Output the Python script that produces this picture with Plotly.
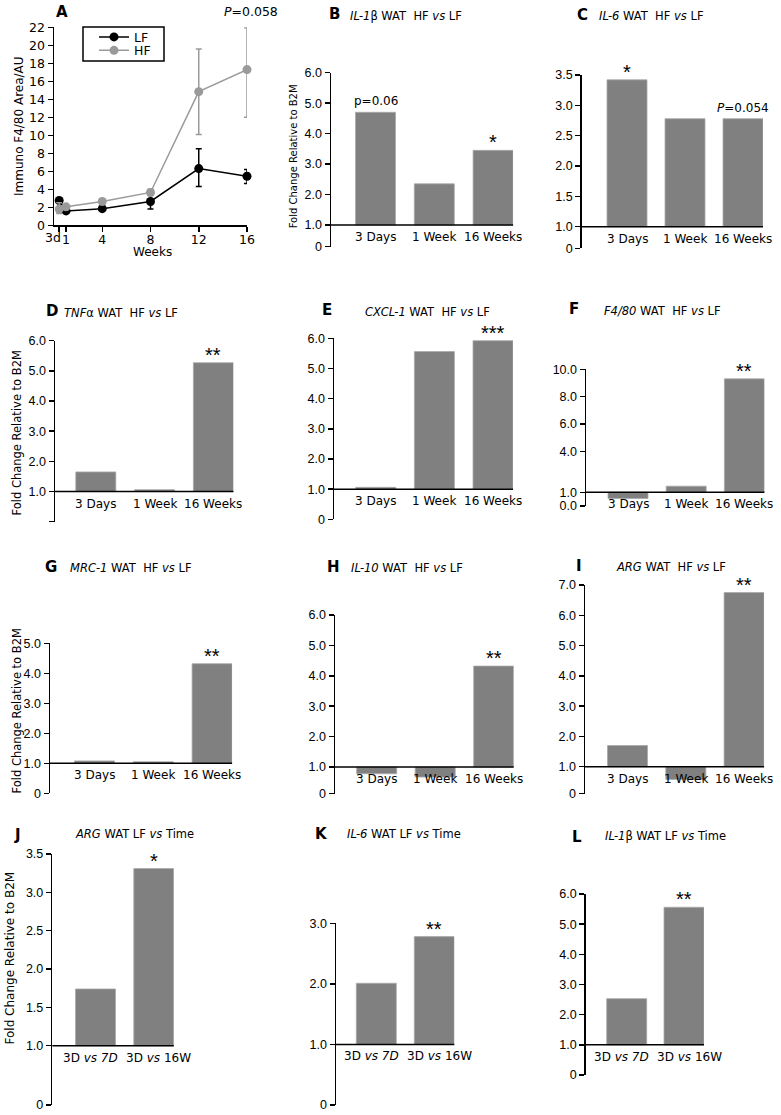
import plotly.graph_objects as go

W, H = 781, 1115
ARIAL = "Liberation Sans, Arial, sans-serif"
WIDE = "DejaVu Sans, Verdana, sans-serif"
BAR_COLOR = "#808080"
HF_GREY = "#9a9a9a"

# ---------------- Panel A data (F4/80 immunostaining) ----------------
weeks = [0.43, 1, 4, 8, 12, 16]
week_tick_vals = [0.43, 1, 4, 8, 12, 16]
week_tick_text = ["", "1", "4", "8", "12", "16"]
a_y_ticks = [0, 2, 4, 6, 8, 10, 12, 14, 16, 18, 20, 22]
lf_mean = [2.75, 1.6, 1.85, 2.65, 6.3, 5.45]
lf_err_up = [0.2, 0.15, 0.15, 0.95, 2.2, 0.75]
lf_err_down = [0.2, 0.15, 0.15, 0.85, 2.0, 0.8]
hf_mean = [1.8, 2.05, 2.65, 3.65, 14.85, 17.3]
hf_err_up = [0.7, 0.15, 0.3, 0.35, 4.75, 4.65]
hf_err_down = [0.5, 0.15, 0.25, 0.35, 4.75, 5.3]

# ---------------- Bar panels data ----------------
hf_cats = ["3 Days", "1 Week", "16 Weeks"]
lf_cats = ["3D vs 7D", "3D vs 16W"]
lf_cat_labels = ["3D <i>vs 7D</i>", "3D <i>vs</i> 16W"]

il1b_hf = [4.70, 2.35, 3.45]
il6_hf = [3.42, 2.78, 2.78]
tnfa_hf = [1.65, 1.06, 5.27]
cxcl1_hf = [1.06, 5.56, 5.92]
f480_hf = [0.55, 1.45, 9.3]
mrc1_hf = [1.08, 1.05, 4.32]
il10_hf = [0.78, 0.67, 4.32]
arg_hf = [1.70, 0.58, 6.75]
arg_lf = [1.74, 3.31]
il6_lf = [2.01, 2.78]
il1b_lf = [2.53, 5.56]

il1b_hf_sig = ["p=0.06", "", "*"]
il6_hf_sig = ["*", "", "<i>P</i>=0.054"]
tnfa_hf_sig = ["", "", "**"]
cxcl1_hf_sig = ["", "", "***"]
f480_hf_sig = ["", "", "**"]
mrc1_hf_sig = ["", "", "**"]
il10_hf_sig = ["", "", "**"]
arg_hf_sig = ["", "", "**"]
arg_lf_sig = ["", "*"]
il6_lf_sig = ["", "**"]
il1b_lf_sig = ["", "**"]

ticks_6 = [1, 2, 3, 4, 5, 6]
ticks_6_text = ["1.0", "2.0", "3.0", "4.0", "5.0", "6.0"]

NB = "\u00a0"
# layout spec per panel (pixel geometry)
panels = [
    dict(letter="B", title=f"<i>IL-1</i>β WAT{NB}{NB}HF <i>vs</i> LF", cats=hf_cats, labels=hf_cats,
         vals=il1b_hf, sig=il1b_hf_sig, ax=331, c0=375.5, s=58.8, ytop=72.7, ybot=246.7,
         yr=[0.287, 6.0], tv=ticks_6, tt=ticks_6_text, bot="0",
         lx=334, ly=13.8, tx=348, ty=16),
    dict(letter="C", title=f"<i>IL-6</i> WAT{NB}{NB}HF <i>vs</i> LF", cats=hf_cats, labels=hf_cats,
         vals=il6_hf, sig=il6_hf_sig, ax=581.7, c0=627, s=58, ytop=75, ybot=248.3,
         yr=[0.644, 3.5], tv=[1, 1.5, 2, 2.5, 3, 3.5], tt=["1.0", "1.5", "2.0", "2.5", "3.0", "3.5"], bot="0",
         lx=582.5, ly=15.3, tx=597, ty=16),
    dict(letter="D", title=f"<i>TNF</i>α WAT{NB}{NB}HF <i>vs</i> LF", cats=hf_cats, labels=hf_cats,
         vals=tnfa_hf, sig=tnfa_hf_sig, ax=55, c0=95.8, s=58.8, ytop=340.7, ybot=521.7,
         yr=[0, 6.0], tv=ticks_6, tt=ticks_6_text, bot="",
         lx=51.5, ly=311.3, tx=62, ty=312.7),
    dict(letter="E", title=f"<i>CXCL-1</i> WAT{NB}{NB}HF <i>vs</i> LF", cats=hf_cats, labels=hf_cats,
         vals=cxcl1_hf, sig=cxcl1_hf_sig, ax=334, c0=375.8, s=58.6, ytop=338.3, ybot=519.3,
         yr=[0, 6.0], tv=ticks_6, tt=ticks_6_text, bot="0",
         lx=327.3, ly=309.5, tx=363, ty=311.7),
    dict(letter="F", title=f"<i>F4/80</i> WAT{NB}{NB}HF <i>vs</i> LF", cats=hf_cats, labels=hf_cats,
         vals=f480_hf, sig=f480_hf_sig, ax=586, c0=628, s=58.2, ytop=369.3, ybot=506,
         yr=[0, 10.0], tv=[1, 4, 6, 8, 10], tt=["1.0", "4.0", "6.0", "8.0", "10.0"], bot="0.0",
         lx=574, ly=309, tx=601.7, ty=310.7),
    dict(letter="G", title=f"<i>MRC-1</i> WAT{NB}{NB}HF <i>vs</i> LF", cats=hf_cats, labels=hf_cats,
         vals=mrc1_hf, sig=mrc1_hf_sig, ax=50, c0=94.5, s=58.8, ytop=643.3, ybot=793.3,
         yr=[0, 5.0], tv=[1, 2, 3, 4, 5], tt=["1.0", "2.0", "3.0", "4.0", "5.0"], bot="0",
         lx=50.5, ly=567, tx=68, ty=568.3),
    dict(letter="H", title=f"<i>IL-10</i> WAT{NB}{NB}HF <i>vs</i> LF", cats=hf_cats, labels=hf_cats,
         vals=il10_hf, sig=il10_hf_sig, ax=335, c0=376.7, s=58.5, ytop=615, ybot=793.5,
         yr=[0.13, 6.0], tv=ticks_6, tt=ticks_6_text, bot="0",
         lx=333, ly=567, tx=349.3, ty=568.3),
    dict(letter="I", title=f"<i>ARG</i> WAT{NB}{NB}HF <i>vs</i> LF", cats=hf_cats, labels=hf_cats,
         vals=arg_hf, sig=arg_hf_sig, ax=585, c0=627.5, s=58.3, ytop=585, ybot=793.5,
         yr=[0.115, 7.0], tv=[1, 2, 3, 4, 5, 6, 7], tt=["1.0", "2.0", "3.0", "4.0", "5.0", "6.0", "7.0"], bot="0",
         lx=578.7, ly=565.5, tx=614, ty=566.7),
    dict(letter="J", title="<i>ARG</i> WAT LF <i>vs</i> Time", cats=lf_cats, labels=lf_cat_labels,
         vals=arg_lf, sig=arg_lf_sig, ax=52.3, c0=95.5, s=58.3, ytop=854, ybot=1105,
         yr=[0.227, 3.5], tv=[1, 1.5, 2, 2.5, 3, 3.5], tt=["1.0", "1.5", "2.0", "2.5", "3.0", "3.5"], bot="0",
         lx=17.7, ly=835, tx=73.3, ty=834.3),
    dict(letter="K", title="<i>IL-6</i> WAT LF <i>vs</i> Time", cats=lf_cats, labels=lf_cat_labels,
         vals=il6_lf, sig=il6_lf_sig, ax=336, c0=376.3, s=58, ytop=923.3, ybot=1105,
         yr=[0, 3.0], tv=[1, 2, 3], tt=["1.0", "2.0", "3.0"], bot="0",
         lx=321.5, ly=834, tx=345, ty=834.3),
    dict(letter="L", title="<i>IL-1</i>β WAT LF <i>vs</i> Time", cats=lf_cats, labels=lf_cat_labels,
         vals=il1b_lf, sig=il1b_lf_sig, ax=585.7, c0=626.7, s=57.3, ytop=894, ybot=1075,
         yr=[0, 6.0], tv=ticks_6, tt=ticks_6_text, bot="0",
         lx=576.7, ly=836.5, tx=603.3, ty=835.7),
]

BW = 40  # bar width px

fig = go.Figure()
annotations = []
shapes = []


def px_x(x):
    return x / W


def px_y(y):
    return 1 - y / H


# ---------- Panel A ----------
fig.add_trace(go.Scatter(
    x=weeks, y=lf_mean, name="LF", mode="lines+markers", legend="legend",
    line=dict(color="black", width=1.5), marker=dict(color="black", size=9),
    error_y=dict(type="data", symmetric=False, array=lf_err_up, arrayminus=lf_err_down,
                 color="black", thickness=1.5, width=3),
    cliponaxis=False, xaxis="x", yaxis="y"))
fig.add_trace(go.Scatter(
    x=weeks, y=hf_mean, name="HF", mode="lines+markers", legend="legend2",
    line=dict(color=HF_GREY, width=1.5), marker=dict(color=HF_GREY, size=9),
    error_y=dict(type="data", symmetric=False, array=hf_err_up, arrayminus=hf_err_down,
                 color=HF_GREY, thickness=1.5, width=3),
    cliponaxis=False, xaxis="x", yaxis="y"))

a_axis = dict(showgrid=False, zeroline=False, color="black", showline=True, linewidth=1.5,
              linecolor="black", ticks="outside", ticklen=5, tickwidth=1.5, automargin=False,
              tickfont=dict(family=WIDE, size=12.5, color="black"))
layout_axes = {}
layout_axes["xaxis"] = dict(domain=[px_x(54), px_x(247)], range=[0, 16], anchor="y",
                            tickvals=week_tick_vals, ticktext=week_tick_text,
                            ticklabelstandoff=-3, **a_axis)
layout_axes["yaxis"] = dict(domain=[px_y(225.3), px_y(27.3)], range=[0, 22], anchor="x",
                            tickvals=a_y_ticks, ticktext=[str(v) for v in a_y_ticks], **a_axis)
annotations += [
    dict(text="3d", x=52.5 / W, y=px_y(237), xref="paper", yref="paper", showarrow=False,
         xanchor="center", yanchor="middle", font=dict(family=WIDE, size=12.5)),
    dict(text="Weeks", x=152 / W, y=px_y(252), xref="paper", yref="paper", showarrow=False,
         xanchor="center", yanchor="middle", font=dict(family=WIDE, size=12)),
    dict(text="Immuno F4/80 Area/AU", x=19 / W, y=px_y(126), xref="paper", yref="paper",
         showarrow=False, textangle=-90, xanchor="center", yanchor="middle",
         font=dict(family=WIDE, size=12)),
    dict(text="<b>A</b>", x=61.7 / W, y=px_y(12), xref="paper", yref="paper", showarrow=False,
         xanchor="center", yanchor="middle", font=dict(family=WIDE, size=15)),
    dict(text="<i>P</i>=0.058", x=222 / W, y=px_y(12), xref="paper", yref="paper", showarrow=False,
         xanchor="left", yanchor="middle", font=dict(family=WIDE, size=12.5)),
]
# legend frame
shapes.append(dict(type="rect", xref="paper", yref="paper", x0=px_x(83), x1=px_x(164),
                   y0=px_y(61), y1=px_y(27), line=dict(color="black", width=1.5)))

bar_axis = dict(showgrid=False, zeroline=False, color="black", showline=True, linewidth=1.5,
                linecolor="black", ticks="outside", ticklen=5, tickwidth=1.5, automargin=False,
                tickfont=dict(family=ARIAL, size=12.5, color="black"))

# ---------- Bar panels ----------
for i, p in enumerate(panels, start=2):
    xa, ya = f"x{i}", f"y{i}"
    n = len(p["cats"])
    right_px = p["c0"] + (n - 1) * p["s"] + BW / 2
    x_lo = (p["ax"] - p["c0"]) / p["s"]
    x_hi = (n - 1) + (BW / 2) / p["s"]
    fig.add_trace(go.Bar(
        x=p["cats"], y=[v - 1 for v in p["vals"]], base=1, width=BW / p["s"],
        marker=dict(color=BAR_COLOR, line=dict(color="#a8a8a8", width=0.8)),
        showlegend=False, xaxis=xa, yaxis=ya, hoverinfo="skip"))
    layout_axes[f"xaxis{i}"] = dict(domain=[px_x(p["ax"]), px_x(right_px)], range=[x_lo, x_hi],
                                    type="category", categoryorder="array", categoryarray=p["cats"],
                                    visible=False, anchor=ya, automargin=False)
    layout_axes[f"yaxis{i}"] = dict(domain=[px_y(p["ybot"]), px_y(p["ytop"])], range=p["yr"],
                                    anchor=xa, tickvals=[p["yr"][0]] + p["tv"],
                                    ticktext=[p["bot"]] + p["tt"], **bar_axis)
    shapes.append(dict(type="line", xref=f"{xa} domain", yref=ya, x0=0, x1=1, y0=1, y1=1,
                       line=dict(color="black", width=1.5)))
    shifts = [0] * n if n == 3 else [-5, 5]
    for c, lab, sh in zip(p["cats"], p["labels"], shifts):
        annotations.append(dict(text=lab, x=c, y=1, xref=xa, yref=ya, showarrow=False,
                                xanchor="center", yanchor="top", yshift=-3, xshift=sh,
                                font=dict(family=WIDE, size=12, color="black")))
    for c, v, sg in zip(p["cats"], p["vals"], p["sig"]):
        if not sg:
            continue
        star = sg.startswith("*")
        annotations.append(dict(text=sg, x=c, y=v, xref=xa, yref=ya, showarrow=False,
                                xanchor="center", yanchor="bottom",
                                yshift=-5 if star else 2,
                                font=dict(family=ARIAL if star else WIDE, size=20 if star else 12,
                                          color="black")))
    annotations.append(dict(text=f"<b>{p['letter']}</b>", x=p["lx"] / W, y=px_y(p["ly"]),
                            xref="paper", yref="paper", showarrow=False, xanchor="center",
                            yanchor="middle", font=dict(family=WIDE, size=15, color="black")))
    annotations.append(dict(text=p["title"], x=p["tx"] / W, y=px_y(p["ty"]),
                            xref="paper", yref="paper", showarrow=False, xanchor="left",
                            yanchor="middle", font=dict(family=WIDE, size=11.5, color="black")))

# y axis titles
ytitle = "Fold Change Relative to B2M"
for (cx, cy, fs) in [(293.3, 156, 10), (16.5, 433, 11.5), (16.5, 711, 11.5), (9.5, 958, 12)]:
    annotations.append(dict(text=ytitle, x=cx / W, y=px_y(cy), xref="paper", yref="paper",
                            showarrow=False, textangle=-90, xanchor="center", yanchor="middle",
                            font=dict(family=WIDE, size=fs, color="black")))

leg_common = dict(xanchor="left", yanchor="middle", borderwidth=0, bgcolor="rgba(0,0,0,0)",
                  font=dict(family=WIDE, size=12.5, color="black"), itemwidth=30)

fig.update_layout(
    template="none",
    width=W, height=H, autosize=False,
    margin=dict(l=0, r=0, t=0, b=0, pad=0, autoexpand=False),
    paper_bgcolor="white", plot_bgcolor="white",
    font=dict(family=WIDE, size=12, color="black"),
    showlegend=True,
    legend=dict(x=94 / W, y=px_y(37.3), **leg_common),
    legend2=dict(x=94 / W, y=px_y(50.7), **leg_common),
    annotations=annotations, shapes=shapes,
    bargap=0,
    **layout_axes,
)

fig.write_html("out.html", config={"displayModeBar": False, "staticPlot": True},
               post_script="document.body.style.margin='0';"
                           "document.documentElement.style.overflow='hidden';")
